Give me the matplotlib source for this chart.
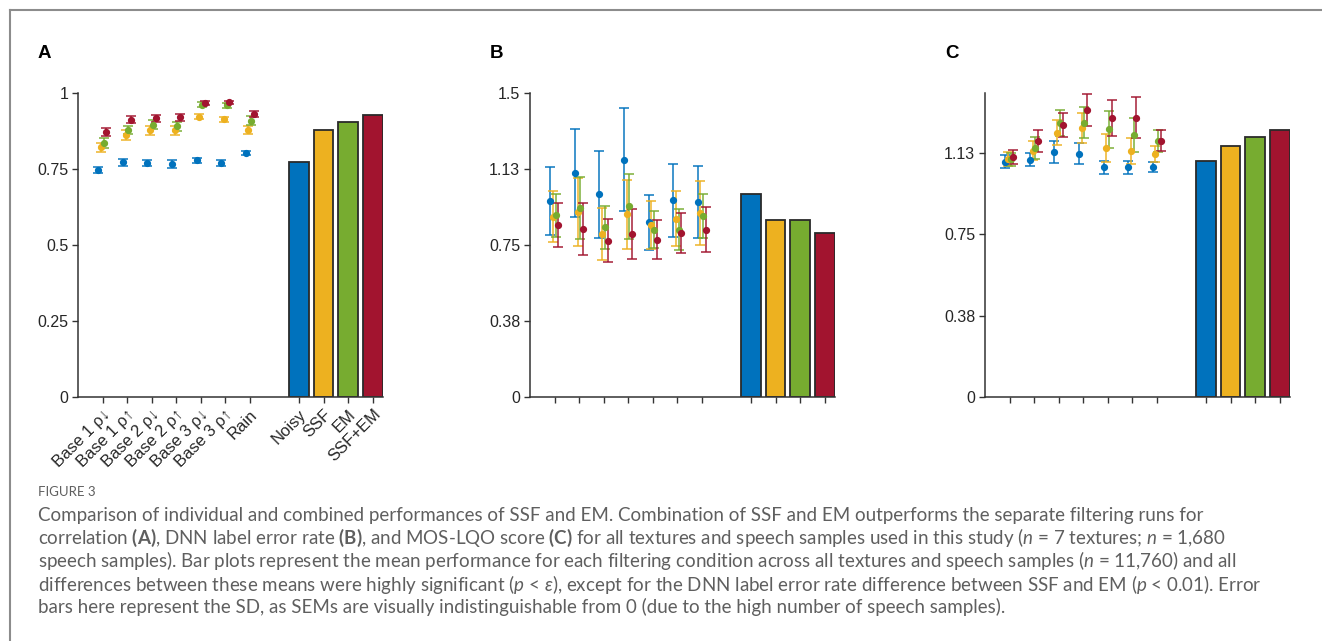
import matplotlib
matplotlib.use("Agg")
import matplotlib.pyplot as plt
from matplotlib.lines import Line2D
from matplotlib.colors import to_rgba
import numpy as np

# ---- data ----
conditions = ["Noisy", "SSF", "EM", "SSF+EM"]
colors = ["#0072BD", "#EDB120", "#77AC30", "#A2142F"]
texture_labels = ["Base 1 ρ↓", "Base 1 ρ↑", "Base 2 ρ↓", "Base 2 ρ↑",
                  "Base 3 ρ↓", "Base 3 ρ↑", "Rain"]

# A: correlation
a_mean = {
    "Noisy":  [0.746, 0.772, 0.771, 0.766, 0.778, 0.771, 0.802],
    "SSF":    [0.821, 0.862, 0.877, 0.877, 0.922, 0.914, 0.879],
    "EM":     [0.836, 0.879, 0.895, 0.890, 0.962, 0.959, 0.909],
    "SSF+EM": [0.873, 0.912, 0.917, 0.920, 0.967, 0.969, 0.930],
}
a_sd = {
    "Noisy":  [0.010, 0.011, 0.010, 0.012, 0.009, 0.010, 0.006],
    "SSF":    [0.016, 0.015, 0.014, 0.014, 0.008, 0.008, 0.013],
    "EM":     [0.017, 0.014, 0.015, 0.016, 0.008, 0.009, 0.014],
    "SSF+EM": [0.013, 0.011, 0.011, 0.012, 0.006, 0.006, 0.010],
}
a_bars = [0.772, 0.879, 0.904, 0.927]

# B: DNN label error rate
b_mean = {
    "Noisy":  [0.966, 1.105, 1.000, 1.171, 0.862, 0.970, 0.961],
    "SSF":    [0.890, 0.911, 0.804, 0.901, 0.849, 0.880, 0.908],
    "EM":     [0.896, 0.933, 0.837, 0.941, 0.826, 0.826, 0.893],
    "SSF+EM": [0.849, 0.829, 0.771, 0.803, 0.775, 0.809, 0.826],
}
b_sd = {
    "Noisy":  [0.167, 0.217, 0.215, 0.254, 0.135, 0.180, 0.178],
    "SSF":    [0.127, 0.168, 0.130, 0.170, 0.117, 0.137, 0.156],
    "EM":     [0.105, 0.153, 0.105, 0.160, 0.093, 0.100, 0.107],
    "SSF+EM": [0.107, 0.128, 0.105, 0.123, 0.096, 0.100, 0.113],
}
b_bars = [1.003, 0.875, 0.875, 0.808]

# C: MOS-LQO score
c_mean = {
    "Noisy":  [1.084, 1.092, 1.127, 1.121, 1.058, 1.058, 1.058],
    "SSF":    [1.097, 1.135, 1.218, 1.238, 1.146, 1.132, 1.120],
    "EM":     [1.095, 1.146, 1.264, 1.264, 1.233, 1.207, 1.179],
    "SSF+EM": [1.106, 1.179, 1.252, 1.322, 1.285, 1.287, 1.181],
}
c_sd = {
    "Noisy":  [0.029, 0.030, 0.050, 0.048, 0.030, 0.029, 0.023],
    "SSF":    [0.031, 0.043, 0.056, 0.069, 0.064, 0.059, 0.038],
    "EM":     [0.030, 0.051, 0.060, 0.070, 0.086, 0.080, 0.049],
    "SSF+EM": [0.031, 0.049, 0.055, 0.074, 0.083, 0.095, 0.050],
}
c_bars = [1.087, 1.155, 1.196, 1.230]

a_ticks = [0, 0.25, 0.5, 0.75, 1]
a_ticklabels = ["0", "0.25", "0.5", "0.75", "1"]
b_ticks = [0, 0.375, 0.75, 1.125, 1.5]
b_ticklabels = ["0", "0.38", "0.75", "1.13", "1.5"]
c_ticks = [0, 0.375, 0.75, 1.125]
c_ticklabels = ["0", "0.38", "0.75", "1.13"]

caption_title = "FIGURE 3"
caption_lines = [
    "Comparison of individual and combined performances of SSF and EM. Combination of SSF and EM outperforms the separate filtering runs for",
    r"correlation $\mathbf{(A)}$, DNN label error rate $\mathbf{(B)}$, and MOS-LQO score $\mathbf{(C)}$ for all textures and speech samples used in this study ($n$ = 7 textures; $n$ = 1,680",
    r"speech samples). Bar plots represent the mean performance for each filtering condition across all textures and speech samples ($n$ = 11,760) and all",
    r"differences between these means were highly significant ($p$ < $\epsilon$), except for the DNN label error rate difference between SSF and EM ($p$ < 0.01). Error",
    "bars here represent the SD, as SEMs are visually indistinguishable from 0 (due to the high number of speech samples).",
]

# ---- style ----
plt.rcParams["font.family"] = ["Liberation Sans", "DejaVu Sans"]
plt.rcParams["mathtext.fontset"] = "custom"
plt.rcParams["mathtext.rm"] = "Lato"
plt.rcParams["mathtext.it"] = "Lato:italic"
plt.rcParams["mathtext.bf"] = "Lato:bold"
axis_col = "#333333"

W, H = 1322, 641
fig = plt.figure(figsize=(W / 100, H / 100), dpi=100)

tex_pos = np.arange(1, 8)
bar_pos = np.arange(9, 13)
offsets = [-0.17, -0.06, 0.05, 0.16]


def panel(rect, means, sds, bars, ylim, ticks, ticklabels, letter, xlabels):
    ax = fig.add_axes(rect)
    for k, cond in enumerate(conditions):
        ax.errorbar(tex_pos + offsets[k], means[cond], yerr=sds[cond], fmt="o",
                    color=colors[k], ecolor=to_rgba(colors[k], 0.75),
                    markersize=4.2, elinewidth=1.4, capsize=3.3, capthick=1.4, zorder=3)
    ax.bar(bar_pos, bars, width=0.8, color=colors, edgecolor="#2a2a2a", linewidth=1.3)
    ax.set_xlim(0, 12.42)
    ax.set_ylim(*ylim)
    ax.set_yticks(ticks)
    ax.set_yticklabels(ticklabels)
    ax.set_xticks(list(tex_pos) + list(bar_pos))
    if xlabels:
        ax.set_xticklabels(texture_labels + conditions, rotation=45, ha="right",
                           va="top", rotation_mode="anchor", fontsize=12)
    else:
        ax.set_xticklabels([])
    for s in ["top", "right"]:
        ax.spines[s].set_visible(False)
    for s in ["left", "bottom"]:
        ax.spines[s].set_color(axis_col)
        ax.spines[s].set_linewidth(1.1)
    ax.tick_params(direction="out", length=4, width=1, colors=axis_col,
                   labelcolor="#262626", pad=3)
    ax.tick_params(axis="y", labelsize=11.5)
    fig.text(rect[0] - 40 / W, 0.916, letter, fontsize=13.5, fontweight="bold",
             ha="left", va="center", color="black")
    return ax


bottom = 1 - 397 / H
height = (397 - 93) / H
width = 305 / W
panel([78 / W, bottom, width, height], a_mean, a_sd, a_bars, (0, 1),
      a_ticks, a_ticklabels, "A", True)
panel([530 / W, bottom, width, height], b_mean, b_sd, b_bars, (0, 1.5),
      b_ticks, b_ticklabels, "B", False)
panel([985 / W, bottom, width, height], c_mean, c_sd, c_bars, (0, 1.4),
      c_ticks, c_ticklabels, "C", False)

# frame around the figure
fig.add_artist(Line2D([10 / W, 10 / W], [0, 1 - 10 / H], transform=fig.transFigure,
                      color="#8c8c8c", linewidth=1.5))
fig.add_artist(Line2D([10 / W, 1], [1 - 10 / H, 1 - 10 / H], transform=fig.transFigure,
                      color="#8c8c8c", linewidth=1.5))

# caption
cap_col = "#5f5f5f"
fig.text(38 / W, 1 - 492 / H, caption_title, fontsize=9.5, color=cap_col,
         family="Lato", ha="left", va="center")
line_y = [515, 538, 561, 584, 607]
for txt, y in zip(caption_lines, line_y):
    fig.text(38 / W, 1 - y / H, txt, fontsize=13.5, color=cap_col,
             family="Lato", ha="left", va="center")

fig.savefig("out.png", dpi=100)
